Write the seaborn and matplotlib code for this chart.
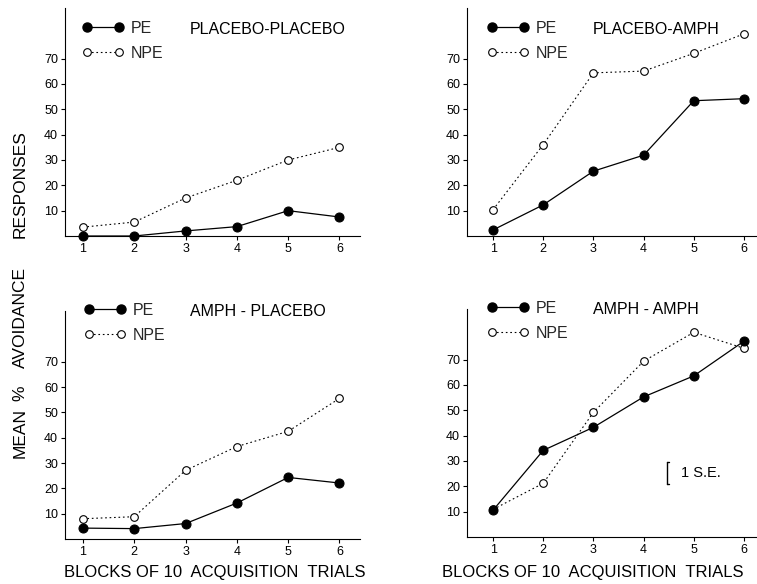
import matplotlib
matplotlib.use("Agg")
import matplotlib.pyplot as plt
import seaborn as sns
import pandas as pd
from matplotlib.lines import Line2D

# ---------------- data ----------------
blocks = [1, 2, 3, 4, 5, 6]
yticks = [10, 20, 30, 40, 50, 60, 70]

titles = ["PLACEBO-PLACEBO", "PLACEBO-AMPH", "AMPH - PLACEBO", "AMPH - AMPH"]

pe_plac_plac = [0.0, 0.0, 2.0, 3.7, 10.0, 7.5]
npe_plac_plac = [3.5, 5.5, 15.0, 22.0, 30.0, 35.0]

pe_plac_amph = [2.4, 12.3, 25.6, 31.9, 53.4, 54.2]
npe_plac_amph = [10.4, 36.1, 64.4, 65.1, 72.1, 79.8]

pe_amph_plac = [4.3, 4.1, 6.1, 14.2, 24.3, 22.1]
npe_amph_plac = [8.0, 8.8, 27.1, 36.5, 42.5, 55.5]

pe_amph_amph = [10.6, 34.2, 43.3, 55.3, 63.6, 77.3]
npe_amph_amph = [10.9, 21.2, 49.2, 69.4, 80.8, 74.5]

series_labels = ["PE", "NPE"]
xlabel = "BLOCKS OF 10  ACQUISITION  TRIALS"
ylabel_words = ["MEAN", "%", "AVOIDANCE", "RESPONSES"]

# 1 S.E. scale bar (bottom-right panel)
se_x = 4.46
se_low = 20.9
se_high = 29.7
se_label = "1 S.E."

# ---------------- style ----------------
sns.set_theme(style="ticks")
plt.rcParams["font.family"] = ["Liberation Sans", "DejaVu Sans"]

W, H = 757, 584
fig = plt.figure(figsize=(W / 100, H / 100), dpi=100)

def fx(px):
    return px / W

def fy(py):
    return 1 - py / H

# layout in pixels: axes box, legend anchor x, legend first-row y, title x
panels = [
    dict(box=(65, 360, 8, 236), xlim=(0.65, 6.40), pe=pe_plac_plac, npe=npe_plac_plac,
         title=titles[0], bottom=False, leg_x=82, row_y=30, title_x=190, xlab_cx=None),
    dict(box=(467, 757, 8, 236), xlim=(0.48, 6.26), pe=pe_plac_amph, npe=npe_plac_amph,
         title=titles[1], bottom=False, leg_x=487, row_y=30, title_x=593, xlab_cx=None),
    dict(box=(65, 360, 311, 539), xlim=(0.65, 6.40), pe=pe_amph_plac, npe=npe_amph_plac,
         title=titles[2], bottom=True, leg_x=84, row_y=312, title_x=190, xlab_cx=215),
    dict(box=(467, 757, 309, 537), xlim=(0.48, 6.26), pe=pe_amph_amph, npe=npe_amph_amph,
         title=titles[3], bottom=True, leg_x=487, row_y=310, title_x=593, xlab_cx=593),
]

pe_kw = dict(color="black", lw=0.9, marker="o", markersize=6.5,
             markerfacecolor="black", markeredgecolor="black")
npe_kw = dict(color="black", lw=0.8, linestyle=(0, (1.5, 2.5)), marker="o",
              markersize=5.5, markerfacecolor="white", markeredgecolor="black",
              markeredgewidth=0.8)

axes = []
for p in panels:
    l, r, t, b = p["box"]
    ax = fig.add_axes([fx(l), fy(b), fx(r) - fx(l), fy(t) - fy(b)])
    axes.append(ax)
    df = pd.DataFrame({"block": blocks * 2,
                       "value": list(p["pe"]) + list(p["npe"]),
                       "group": ["PE"] * 6 + ["NPE"] * 6})
    sns.lineplot(data=df[df.group == "NPE"], x="block", y="value", ax=ax,
                 clip_on=False, zorder=3, **npe_kw)
    sns.lineplot(data=df[df.group == "PE"], x="block", y="value", ax=ax,
                 clip_on=False, zorder=4, **pe_kw)
    ax.set_xlim(*p["xlim"])
    ax.set_ylim(0, 90)
    ax.set_xticks(blocks)
    ax.set_yticks(yticks)
    ax.tick_params(axis="both", labelsize=9, length=3, width=0.8, pad=2,
                   color="black", labelcolor="black")
    for s in ["top", "right"]:
        ax.spines[s].set_visible(False)
    for s in ["left", "bottom"]:
        ax.spines[s].set_linewidth(0.8)
        ax.spines[s].set_color("black")
    ax.set_ylabel("")
    if p["bottom"]:
        ax.set_xlabel(xlabel, fontsize=12, color="black")
        ax.xaxis.set_label_coords((p["xlab_cx"] - l) / (r - l),
                                  (b - 565) / (b - t))
    else:
        ax.set_xlabel("")
    handles = [Line2D([], [], **pe_kw), Line2D([], [], **npe_kw)]
    ax.legend(handles, series_labels, loc="upper left", numpoints=2,
              frameon=False, fontsize=11.5, handlelength=2.6,
              handletextpad=0.45, labelspacing=0.62, borderpad=0,
              borderaxespad=0,
              bbox_to_anchor=(fx(p["leg_x"]), fy(p["row_y"] - 9)),
              bbox_transform=fig.transFigure)
    fig.text(fx(p["title_x"]), fy(p["row_y"]), p["title"], fontsize=11.5,
             va="center", ha="left", color="black")

# 1 S.E. bracket
ax = axes[3]
ax.plot([se_x, se_x], [se_low, se_high], color="black", lw=1.0)
ax.plot([se_x, se_x + 0.04], [se_low, se_low], color="black", lw=1.0)
ax.plot([se_x, se_x + 0.04], [se_high, se_high], color="black", lw=1.0)
ax.text(se_x + 0.28, (se_low + se_high) / 2, se_label, fontsize=10.5,
        va="center", ha="left", color="black")

# shared y label, words placed individually (letter-spaced look)
ycenters = [433, 393, 318, 184]
for word, yc in zip(ylabel_words, ycenters):
    fig.text(fx(20), fy(yc), word, rotation=90, fontsize=12.5,
             ha="center", va="center", color="black")

fig.savefig("out.png", dpi=100, facecolor="white")
